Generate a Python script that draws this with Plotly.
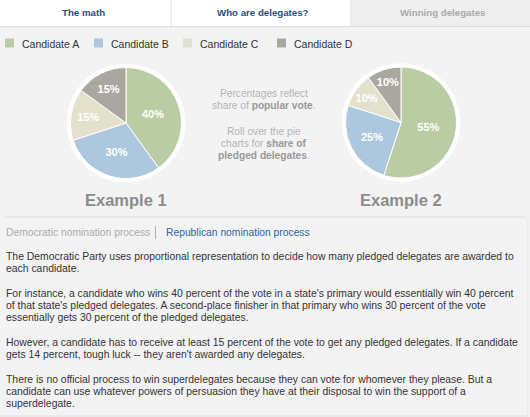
import plotly.graph_objects as go

# ---------------- data ----------------
candidates = ["Candidate A", "Candidate B", "Candidate C", "Candidate D"]
example1_share = [40, 30, 15, 15]
example2_share = [55, 25, 10, 10]
candidate_colors = ["#b9cca3", "#adc7de", "#e3e1cc", "#aaa7a0"]
example_titles = ["Example 1", "Example 2"]

tabs = ["The math", "Who are delegates?", "Winning delegates"]
process_links = ["Democratic nomination process", "Republican nomination process"]

body_lines = [
    "The Democratic Party uses proportional representation to decide how many pledged delegates are awarded to",
    "each candidate.",
    "For instance, a candidate who wins 40 percent of the vote in a state's primary would essentially win 40 percent",
    "of that state's pledged delegates. A second-place finisher in that primary who wins 30 percent of the vote",
    "essentially gets 30 percent of the pledged delegates.",
    "However, a candidate has to receive at least 15 percent of the vote to get any pledged delegates. If a candidate",
    "gets 14 percent, tough luck -- they aren't awarded any delegates.",
    "There is no official process to win superdelegates because they can vote for whomever they please. But a",
    "candidate can use whatever powers of persuasion they have at their disposal to win the support of a",
    "superdelegate.",
]
body_y = [256.5, 268.5, 293, 305, 317, 342, 354, 379, 391, 403]

# ---------------- layout helpers ----------------
W, H = 530, 417
FONT = "Liberation Sans, Arial, Helvetica, sans-serif"


def px(x):
    return x / W


def py(y):
    return 1 - y / H


fig = go.Figure()
shapes = []
annotations = []

# backgrounds
shapes.append(dict(type="rect", xref="paper", yref="paper", x0=0, x1=px(351), y0=py(26), y1=1,
                   fillcolor="#ffffff", line=dict(width=0), layer="below"))
shapes.append(dict(type="rect", xref="paper", yref="paper", x0=px(351), x1=1, y0=py(26), y1=1,
                   fillcolor="#efefef", line=dict(width=0), layer="below"))
for xs in (171, 351):
    shapes.append(dict(type="line", xref="paper", yref="paper", x0=px(xs), x1=px(xs), y0=py(26), y1=1,
                       line=dict(color="#e2e2e2", width=1), layer="below"))
shapes.append(dict(type="line", xref="paper", yref="paper", x0=0, x1=1, y0=py(26.5), y1=py(26.5),
                   line=dict(color="#dddddd", width=1), layer="below"))
shapes.append(dict(type="line", xref="paper", yref="paper", x0=px(4), x1=px(526), y0=py(217), y1=py(217),
                   line=dict(color="#dcdcdc", width=1), layer="below"))
shapes.append(dict(type="line", xref="paper", yref="paper", x0=0, x1=px(528), y0=py(416), y1=py(416),
                   line=dict(color="#e0e0e0", width=1), layer="below"))
shapes.append(dict(type="line", xref="paper", yref="paper", x0=px(528), x1=px(528), y0=py(217), y1=py(416),
                   line=dict(color="#e0e0e0", width=1), layer="below"))

# tabs
tab_centers = [83, 263, 443]
tab_colors = ["#284f84", "#284f84", "#a9a9a9"]
for t, cx, c in zip(tabs, tab_centers, tab_colors):
    annotations.append(dict(text="<b>%s</b>" % t, x=px(cx), y=py(12.5), xref="paper", yref="paper",
                            xanchor="center", yanchor="middle", showarrow=False,
                            font=dict(family=FONT, size=9.7, color=c)))

# custom legend row
legend_x = [5, 94, 183, 277]
for name, col, lx in zip(candidates, candidate_colors, legend_x):
    shapes.append(dict(type="rect", xref="paper", yref="paper", x0=px(lx), x1=px(lx + 9),
                       y0=py(47.5), y1=py(38.5), fillcolor=col, line=dict(width=0)))
    annotations.append(dict(text=name, x=px(lx + 15), y=py(43.5), xref="paper", yref="paper",
                            xanchor="left", yanchor="middle", showarrow=False,
                            font=dict(family=FONT, size=10.5, color="#333333")))

# pies
pie_centers = [(126, 123), (401, 122.5)]
R = 55.5
for shares, (cx, cy), title in zip([example1_share, example2_share], pie_centers, example_titles):
    # white outer ring
    shapes.append(dict(type="circle", xref="paper", yref="paper",
                       x0=px(cx - R - 3.8), x1=px(cx + R + 3.8),
                       y0=py(cy + R + 3.8), y1=py(cy - R - 3.8),
                       fillcolor="#ffffff", line=dict(width=0), layer="below"))
    fig.add_trace(go.Pie(
        labels=candidates, values=shares, sort=False, direction="clockwise", rotation=0,
        marker=dict(colors=candidate_colors, line=dict(color="#ffffff", width=1)),
        texttemplate="%{percent:.0%}", textposition="inside", insidetextorientation="horizontal",
        textfont=dict(family=FONT, size=11, color="#ffffff", weight="bold"),
        domain=dict(x=[px(cx - R), px(cx + R)], y=[py(cy + R), py(cy - R)]),
        showlegend=False, hoverinfo="label+percent",
    ))
    annotations.append(dict(text="<b>%s</b>" % title, x=px(cx), y=py(199.5), xref="paper", yref="paper",
                            xanchor="center", yanchor="middle", showarrow=False,
                            font=dict(family=FONT, size=16.5, color="#8c8c8c")))

# centre note
note_lines = [
    "Percentages reflect",
    "share of <b><span style='color:#999999'>popular vote</span></b>.",
    "Roll over the pie",
    "charts for <b><span style='color:#999999'>share of</span></b>",
    "<b><span style='color:#999999'>pledged delegates</span></b>.",
]
note_y = [94, 106, 131, 143, 155]
for t, yy in zip(note_lines, note_y):
    annotations.append(dict(text=t, x=px(264), y=py(yy), xref="paper", yref="paper",
                            xanchor="center", yanchor="middle", showarrow=False,
                            font=dict(family=FONT, size=10.2, color="#b3b3b3")))

# process links
annotations.append(dict(text=process_links[0], x=px(4), y=py(232.5), xref="paper", yref="paper",
                        xanchor="left", yanchor="middle", showarrow=False,
                        font=dict(family=FONT, size=10.3, color="#ababab")))
shapes.append(dict(type="line", xref="paper", yref="paper", x0=px(155.5), x1=px(155.5),
                   y0=py(226), y1=py(239), line=dict(color="#b0b0b0", width=1)))
annotations.append(dict(text=process_links[1], x=px(164), y=py(232.5), xref="paper", yref="paper",
                        xanchor="left", yanchor="middle", showarrow=False,
                        font=dict(family=FONT, size=10.3, color="#2f64a0")))

# body text
for t, yy in zip(body_lines, body_y):
    annotations.append(dict(text=t, x=px(4), y=py(yy), xref="paper", yref="paper",
                            xanchor="left", yanchor="middle", showarrow=False,
                            font=dict(family=FONT, size=10.4, color="#333333")))

fig.update_layout(
    width=W, height=H, margin=dict(l=0, r=0, t=0, b=0),
    paper_bgcolor="#f3f3f3", plot_bgcolor="#f3f3f3",
    shapes=shapes, annotations=annotations, showlegend=False,
)

fig.write_html("out.html", config={"displayModeBar": False},
               post_script="document.body.style.margin='0';document.body.style.padding='0';")
